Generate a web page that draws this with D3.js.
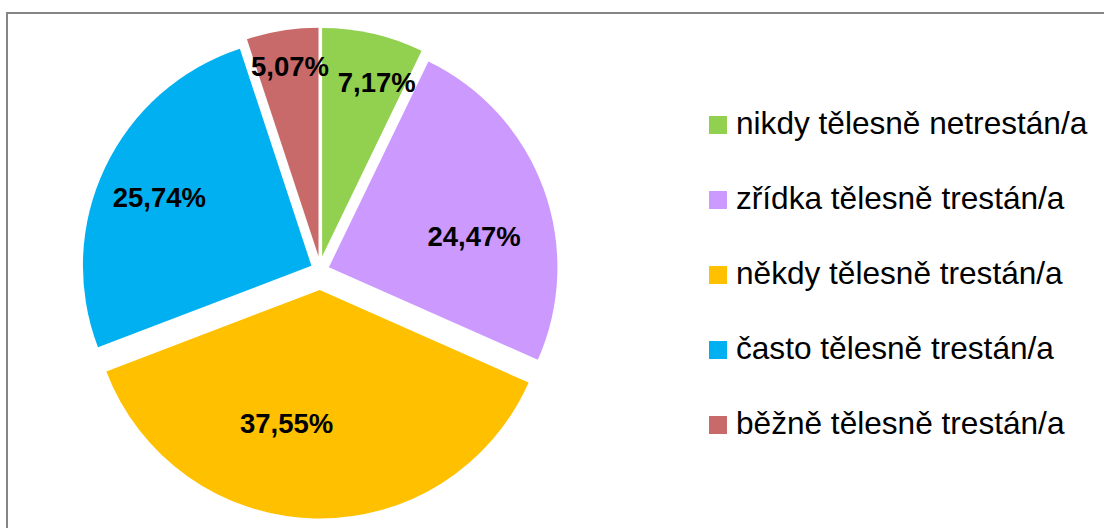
<!DOCTYPE html>
<html lang="cs">
<head>
<meta charset="UTF-8">
<title>Tělesné tresty - výsečový graf</title>
<script src="https://cdn.jsdelivr.net/npm/d3@7"></script>
<style>
  html, body { margin: 0; padding: 0; background: #fff; }
  svg { display: block; }
  .label { font-family: "Liberation Sans", Arial, sans-serif; font-weight: bold; font-size: 27.5px; fill: #000; }
  .legend text { font-family: "Liberation Sans", Arial, sans-serif; font-size: 31.6px; fill: #000; }
</style>
</head>
<body>
<svg id="chart" width="1104" height="528"></svg>
<script>
// data
const categories = [
  "nikdy tělesně netrestán/a",
  "zřídka tělesně trestán/a",
  "někdy tělesně trestán/a",
  "často tělesně trestán/a",
  "běžně tělesně trestán/a"
];
const values = [7.17, 24.47, 37.55, 25.74, 5.07];
const colors = ["#92D050", "#CC99FF", "#FFC000", "#00B0F0", "#C96A6A"];

// layout
const cx = 320, cy = 273, R = 228.5;
const explodeX = 9.5, explodeY = 17;
// label placement (fraction of radius, angle nudge in degrees) - best-fit style
const labelPlace = [[0.80, 4.5], [0.65, 8], [0.60, 12.5], [0.73, -1.2], [0.84, 0.6]];

const svg = d3.select("#chart");

// frame (cut off at right/bottom)
svg.append("rect")
  .attr("x", 7).attr("y", 13)
  .attr("width", 1200).attr("height", 600)
  .attr("fill", "none")
  .attr("stroke", "#868686")
  .attr("stroke-width", 2);

const pie = d3.pie().sort(null).value(d => d)(values);
const arc = d3.arc().innerRadius(0).outerRadius(R);

const g = svg.append("g").attr("transform", `translate(${cx},${cy})`);

const slices = g.selectAll("g.slice")
  .data(pie)
  .enter().append("g")
  .attr("class", "slice")
  .attr("transform", d => {
    const a = (d.startAngle + d.endAngle) / 2;
    return `translate(${Math.sin(a) * explodeX},${-Math.cos(a) * explodeY})`;
  });

slices.append("path")
  .attr("d", arc)
  .attr("fill", (d, i) => colors[i]);

slices.append("text")
  .attr("class", "label")
  .attr("text-anchor", "middle")
  .attr("dy", "0.36em")
  .attr("x", (d, i) => {
    const a = (d.startAngle + d.endAngle) / 2 + labelPlace[i][1] * Math.PI / 180;
    return Math.sin(a) * R * labelPlace[i][0];
  })
  .attr("y", (d, i) => {
    const a = (d.startAngle + d.endAngle) / 2 + labelPlace[i][1] * Math.PI / 180;
    return -Math.cos(a) * R * labelPlace[i][0];
  })
  .text(d => d3.format(".2f")(d.data).replace(".", ",") + "%");

// legend
const legendY = d3.scalePoint().domain(categories).range([125, 425]);
const legend = svg.append("g").attr("class", "legend")
  .selectAll("g")
  .data(categories)
  .enter().append("g")
  .attr("transform", d => `translate(709,${legendY(d)})`);

legend.append("rect")
  .attr("x", 0).attr("y", -9)
  .attr("width", 18).attr("height", 18)
  .attr("fill", (d, i) => colors[i]);

legend.append("text")
  .attr("x", 27).attr("y", 9)
  .text(d => d);
</script>
</body>
</html>
